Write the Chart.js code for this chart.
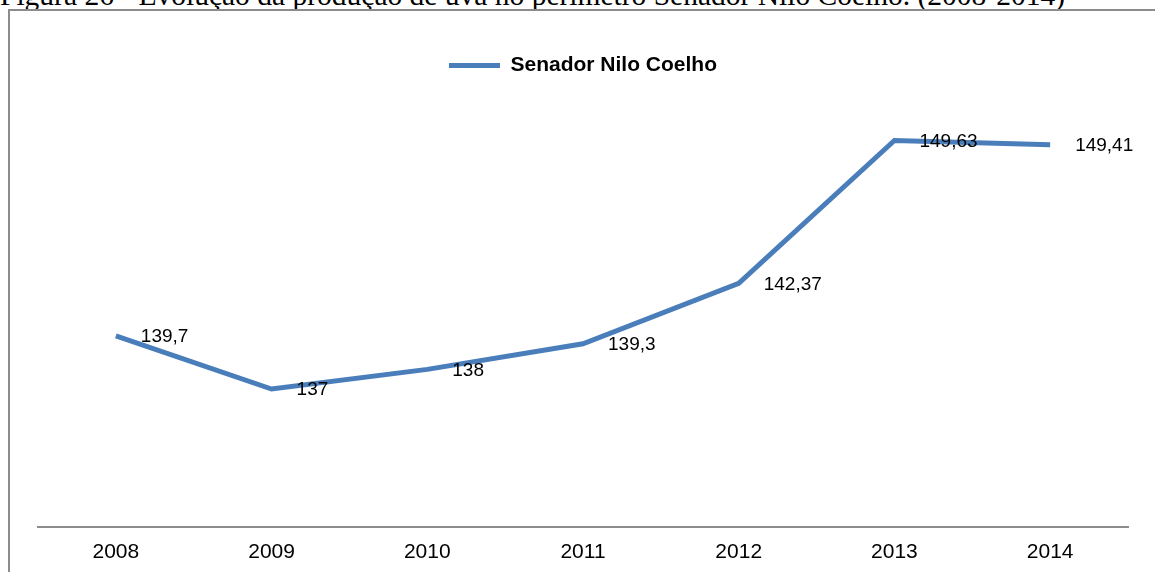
<!DOCTYPE html>
<html>
<head>
<meta charset="utf-8">
<script src="https://cdn.jsdelivr.net/npm/chart.js@4.4.1/dist/chart.umd.min.js"></script>
<style>
  html, body { margin: 0; padding: 0; background: #fff; overflow: hidden; }
  #wrap { position: relative; width: 1155px; height: 572px; overflow: hidden; }
  #caption {
    position: absolute; left: 0; top: -19px; white-space: nowrap;
    font-family: "Liberation Serif", "Times New Roman", serif;
    font-size: 29.5px; line-height: 29.5px; color: #000;
  }
  #frame {
    position: absolute; left: 8px; top: 9px; width: 1300px; height: 700px;
    border: 2px solid #8c8c8c;
  }
  #chartBox { position: absolute; left: 0; top: 0; width: 1155px; height: 578px; }
</style>
</head>
<body>
<div id="wrap">
  <div id="caption">Figura 26 - Evolução da produção de uva no perímetro Senador Nilo Coelho. (2008-2014)</div>
  <div id="frame"></div>
  <div id="chartBox"><canvas id="myChart" width="1155" height="578"></canvas></div>
</div>
<script>
const years = ['2008', '2009', '2010', '2011', '2012', '2013', '2014'];
const production = [139.7, 137, 138, 139.3, 142.37, 149.63, 149.41];
const seriesName = 'Senador Nilo Coelho';

// value labels written with a decimal comma, to the right of each point
const valueLabels = {
  id: 'valueLabels',
  afterDatasetsDraw(chart) {
    const ctx = chart.ctx;
    const meta = chart.getDatasetMeta(0);
    ctx.save();
    ctx.font = '19px "Liberation Sans", Arial, sans-serif';
    ctx.fillStyle = '#000';
    ctx.textAlign = 'left';
    ctx.textBaseline = 'middle';
    meta.data.forEach((pt, i) => {
      const txt = String(production[i]).replace('.', ',');
      ctx.fillText(txt, pt.x + 25, pt.y + 1);
    });
    ctx.restore();
  }
};

const ctx = document.getElementById('myChart').getContext('2d');

const myChart = new Chart(ctx, {
  type: 'line',
  data: {
    labels: years,
    datasets: [{
      label: seriesName,
      data: production,
      borderColor: '#4a7ebb',
      backgroundColor: '#4a7ebb',
      borderWidth: 5,
      pointRadius: 0,
      tension: 0,
      fill: false
    }]
  },
  options: {
    responsive: false,
    animation: false,
    layout: {
      padding: { left: 38, right: 27, top: 45, bottom: 0 }
    },
    scales: {
      x: {
        offset: true,
        grid: { display: false, drawTicks: false },
        border: { display: true, color: '#8c8c8c', width: 2 },
        ticks: {
          color: '#000',
          padding: 13,
          font: { family: '"Liberation Sans", Arial, sans-serif', size: 21 }
        }
      },
      y: {
        display: false,
        min: 130,
        max: 152.4
      }
    },
    plugins: {
      legend: {
        display: true,
        position: 'top',
        labels: {
          usePointStyle: true,
          pointStyle: 'line',
          pointStyleWidth: 51,
          padding: 10,
          color: '#000',
          font: { family: '"Liberation Sans", Arial, sans-serif', size: 21, weight: 'bold' }
        }
      },
      tooltip: { enabled: false }
    }
  },
  plugins: [valueLabels]
});
</script>
</body>
</html>
